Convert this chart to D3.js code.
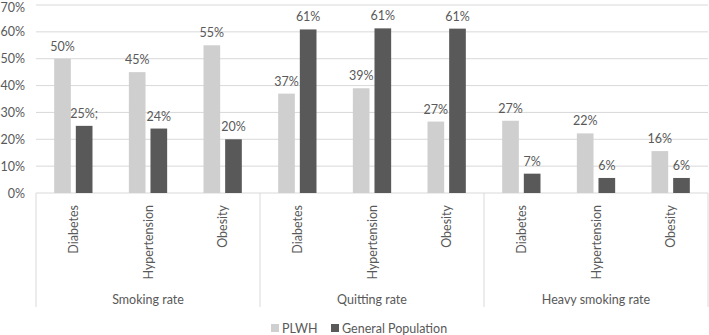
<!DOCTYPE html>
<html><head><meta charset="utf-8">
<script src="https://cdn.jsdelivr.net/npm/d3@7"></script>
<style>body{margin:0;background:#fff}svg{display:block}text{font-family:Lato,"Open Sans",sans-serif;fill:#595959}</style>
</head><body><svg id="c" width="709" height="335"></svg>
<script>
const groups = ["Smoking rate", "Quitting rate", "Heavy smoking rate"];
const categories = ["Diabetes", "Hypertension", "Obesity"];
const seriesNames = ["PLWH", "General Population"];
const plwh = [50, 45, 55, 37, 39, 26.6, 26.9, 22.2, 15.6];
const genpop = [25, 24, 20, 60.9, 61.3, 61.2, 7.2, 5.6, 5.6];
const plwhLabels = ["50%", "45%", "55%", "37%", "39%", "27%", "27%", "22%", "16%"];
const genpopLabels = ["25%;", "24%", "20%", "61%", "61%", "61%", "7%", "6%", "6%"];
const yTicks = [0, 10, 20, 30, 40, 50, 60, 70];
const colors = ["#cfcfcf", "#595959"];

const svg = d3.select("#c");
const L = 36, R = 708, T = 5, B = 193;
const y = d3.scaleLinear().domain([0, 70]).range([B, T]);
const xg = d3.scaleBand().domain(groups).range([L, R]);
const xc = d3.scaleBand().domain(categories).range([0, xg.bandwidth()]);
const xs = d3.scaleBand().domain(seriesNames).range([0, xc.bandwidth()]).paddingInner(0.23).paddingOuter(0.84);

svg.append("g").selectAll("line").data(yTicks).join("line")
  .attr("x1", L).attr("x2", R).attr("y1", d => y(d)).attr("y2", d => y(d))
  .attr("stroke", "#d9d9d9").attr("stroke-width", 1);
svg.append("g").selectAll("text").data(yTicks).join("text")
  .attr("x", 25).attr("y", d => Math.max(y(d) + 4.5, 12)).attr("text-anchor", "end")
  .attr("font-size", 12.5).text(d => d + "%");

const rows = [];
groups.forEach((g, gi) => categories.forEach((c, ci) => {
  const i = gi * 3 + ci;
  rows.push({g, c, i, vals: [plwh[i], genpop[i]], labs: [plwhLabels[i], genpopLabels[i]]});
}));

const cat = svg.append("g").selectAll("g").data(rows).join("g")
  .attr("transform", d => `translate(${xg(d.g) + xc(d.c)},0)`);
seriesNames.forEach((s, si) => {
  cat.append("rect").attr("x", xs(s)).attr("width", xs.bandwidth())
    .attr("y", d => y(d.vals[si])).attr("height", d => B - y(d.vals[si]))
    .attr("fill", colors[si]);
  cat.append("text").attr("x", xs(s) + xs.bandwidth() / 2).attr("y", d => y(d.vals[si]) - 8)
    .attr("text-anchor", "middle").attr("font-size", 12.5).text(d => d.labs[si]);
});
cat.append("text").attr("transform", d => `translate(${xc.bandwidth() / 2 + 4.5},${B + 12}) rotate(-90)`)
  .attr("text-anchor", "end").attr("font-size", 12.5).text(d => d.c);

const bounds = groups.map(g => xg(g)).concat([R]);
svg.append("g").selectAll("line").data(bounds).join("line")
  .attr("x1", d => d).attr("x2", d => d).attr("y1", B).attr("y2", 307)
  .attr("stroke", "#d9d9d9");
svg.append("g").selectAll("text").data(groups).join("text")
  .attr("x", d => xg(d) + xg.bandwidth() / 2).attr("y", 304).attr("text-anchor", "middle")
  .attr("font-size", 12.5).text(d => d);

const leg = [{n: "PLWH", x: 271, tx: 282}, {n: "General Population", x: 331, tx: 342}];
leg.forEach((l, i) => {
  svg.append("rect").attr("x", l.x).attr("y", 324).attr("width", 8).attr("height", 8).attr("fill", colors[i]);
  svg.append("text").attr("x", l.tx).attr("y", 332.5).attr("font-size", 12.5).text(l.n);
});
</script></body></html>
